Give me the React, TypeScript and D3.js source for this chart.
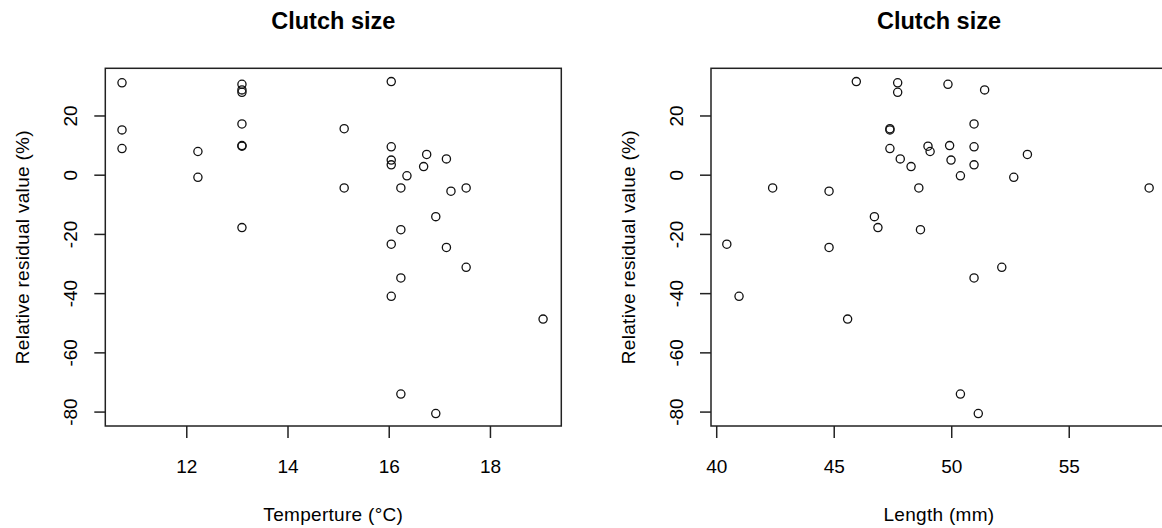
import React, { useEffect, useRef } from 'react';
import * as d3 from 'd3';

// relative residuals of clutch size, one entry per female
const residual = [
  31.6, 31.2, 30.7, 28.8, 28.0, 17.3, 15.7, 15.3, 10.0, 9.8, 9.6, 9.0, 8.0, 7.0, 5.5, 5.1, 3.5, 2.9,
  -0.2, -0.7, -4.3, -4.3, -4.3, -5.4, -14.0, -17.7, -18.4, -23.3, -24.4, -31.1, -34.7, -40.9, -48.6, -73.9, -80.5,
];
const temperature = [
  16.04, 10.72, 13.09, 13.09, 13.09, 13.09, 15.11, 10.72, 13.09, 13.09, 16.04, 10.72, 12.22, 16.74, 17.13, 16.04, 16.04, 16.68,
  16.35, 12.22, 15.11, 16.23, 17.52, 17.22, 16.92, 13.09, 16.23, 16.04, 17.13, 17.52, 16.23, 16.04, 19.04, 16.23, 16.92,
];
const lengthMm = [
  45.94, 47.7, 49.84, 51.4, 47.7, 50.95, 47.37, 47.37, 49.91, 48.99, 50.95, 47.37, 49.08, 53.22, 47.81, 49.97, 50.95, 48.27,
  50.37, 52.64, 42.38, 48.6, 58.4, 44.78, 46.71, 46.86, 48.67, 40.43, 44.78, 52.13, 50.95, 40.95, 45.57, 50.37, 51.13,
];

const yTicks = [-80, -60, -40, -20, 0, 20];
const tempTicks = [12, 14, 16, 18];
const lengthTicks = [40, 45, 50, 55];

const FONT = '"Liberation Sans", Arial, sans-serif';

function drawPanel(svg, opts) {
  const { left, xs, xDomain, xTicks, xLabel, title } = opts;
  const top = 68.3;
  const bottom = 426;
  const width = 456;

  const x = d3.scaleLinear().domain(xDomain).range([left, left + width]);
  const y = d3.scaleLinear().domain([-84.7, 36.1]).range([bottom, top]);

  const g = svg.append('g');

  // title
  g.append('text')
    .attr('x', left + width / 2)
    .attr('y', 29)
    .attr('text-anchor', 'middle')
    .style('font-family', FONT)
    .style('font-weight', 'bold')
    .style('font-size', '23.5px')
    .text(title);

  // points
  g.selectAll('circle')
    .data(xs.map((v, i) => [v, residual[i]]))
    .enter()
    .append('circle')
    .attr('cx', d => x(d[0]))
    .attr('cy', d => y(d[1]))
    .attr('r', 4.1)
    .attr('fill', 'none')
    .attr('stroke', '#111')
    .attr('stroke-width', 1.3);

  // box
  g.append('rect')
    .attr('x', left)
    .attr('y', top)
    .attr('width', width)
    .attr('height', bottom - top)
    .attr('fill', 'none')
    .attr('stroke', '#222')
    .attr('stroke-width', 1.5);

  // x axis ticks
  xTicks.forEach(t => {
    g.append('line')
      .attr('x1', x(t)).attr('x2', x(t))
      .attr('y1', bottom).attr('y2', bottom + 12)
      .attr('stroke', '#222')
      .attr('stroke-width', 1.5);
    g.append('text')
      .attr('x', x(t))
      .attr('y', 473)
      .attr('text-anchor', 'middle')
      .style('font-family', FONT)
      .style('font-size', '19px')
      .text(t);
  });

  // y axis ticks (labels parallel to axis, like R)
  yTicks.forEach(t => {
    g.append('line')
      .attr('x1', left - 11).attr('x2', left)
      .attr('y1', y(t)).attr('y2', y(t))
      .attr('stroke', '#222')
      .attr('stroke-width', 1.5);
    g.append('text')
      .attr('transform', `translate(${left - 28},${y(t)}) rotate(-90)`)
      .attr('text-anchor', 'middle')
      .style('font-family', FONT)
      .style('font-size', '19px')
      .text(t);
  });

  // axis labels
  g.append('text')
    .attr('x', left + width / 2)
    .attr('y', 521)
    .attr('text-anchor', 'middle')
    .style('font-family', FONT)
    .style('font-size', '19px')
    .style('letter-spacing', '0.3px')
    .text(xLabel);

  g.append('text')
    .attr('transform', `translate(${left - 76},${(top + bottom) / 2}) rotate(-90)`)
    .attr('text-anchor', 'middle')
    .style('font-family', FONT)
    .style('font-size', '19px')
    .style('letter-spacing', '0.3px')
    .text('Relative residual value (%)');
}

export default function App() {
  const svgRef = useRef(null);

  useEffect(() => {
    const svg = d3.select(svgRef.current);
    svg.selectAll('*').remove();

    drawPanel(svg, {
      left: 105.3,
      xs: temperature,
      xDomain: [10.39, 19.4],
      xTicks: tempTicks,
      xLabel: 'Temperture (°C)',
      title: 'Clutch size',
    });

    drawPanel(svg, {
      left: 711,
      xs: lengthMm,
      xDomain: [39.757, 59.16],
      xTicks: lengthTicks,
      xLabel: 'Length (mm)',
      title: 'Clutch size',
    });
  }, []);

  return (
    <svg
      ref={svgRef}
      width={1162}
      height={528}
      style={{ position: 'absolute', left: 0, top: 0, background: 'white' }}
    />
  );
}
